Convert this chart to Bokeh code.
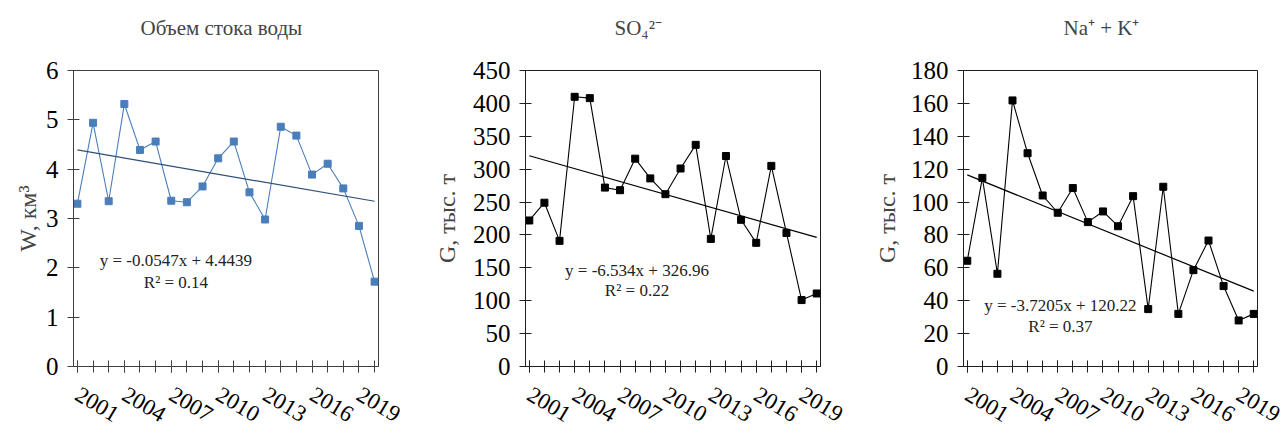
from bokeh.plotting import figure
from bokeh.layouts import row
from bokeh.models import FixedTicker, Range1d, Label, Title, InlineStyleSheet
from bokeh.embed import file_html
from bokeh.resources import INLINE

# ---- data ----
x_idx = list(range(1, 21))  # 2001..2020
label_ticks = [1, 4, 7, 10, 13, 16, 19]
label_years = ["2001", "2004", "2007", "2010", "2013", "2016", "2019"]

water = [3.30, 4.94, 3.35, 5.32, 4.39, 4.56, 3.36, 3.33, 3.65, 4.22,
         4.56, 3.53, 2.98, 4.86, 4.68, 3.89, 4.11, 3.61, 2.85, 1.72]
so4 = [222, 249, 191, 410, 408, 272, 268, 316, 286, 262,
       301, 337, 194, 320, 223, 188, 305, 203, 101, 111]
nak = [64.3, 114.7, 56.4, 161.8, 129.7, 104.0, 93.5, 108.5, 87.8, 94.3,
       85.3, 103.6, 34.9, 109.3, 32.0, 58.6, 76.6, 48.9, 28.0, 32.0]

water_trend = (-0.0547, 4.4439, 0.14)
so4_trend = (-6.534, 326.96, 0.22)
nak_trend = (-3.7205, 120.22, 0.37)

titles = ["Объем стока воды", "SO₄²⁻", "Na⁺ + K⁺"]
ylabels = ["W, км³", "G, тыс. т", "G, тыс. т"]

FONT = "Liberation Serif"
QFONT = '"Liberation Serif", serif'
FIG_H = 443
SERIF_CSS = InlineStyleSheet(css=':host, :host *, text, div, span { font-family: "Liberation Serif", serif !important; }')


def panel(title, vals, trend, ymax, ystep, width, borders, color, trend_color, axis_color,
          eq_pos, r2_pos, ylab, title_offset, ylab_standoff):
    bl, br, bt, bb = borders
    p = figure(width=width, height=FIG_H, output_backend="svg", toolbar_location=None,
               title=None,
               x_range=Range1d(0.75, 20.25), y_range=Range1d(0, ymax),
               min_border_left=bl, min_border_right=br, min_border_top=bt, min_border_bottom=bb)
    p.stylesheets = [SERIF_CSS]
    spacer = Title(text=" ", text_font_size="24px", standoff=0)
    main = Title(text=title, text_font=FONT, text_font_size="21px", text_font_style="normal",
                 align="left", offset=title_offset, standoff=4)
    p.add_layout(spacer, "above")
    p.add_layout(main, "above")
    p.grid.visible = False
    p.outline_line_color = axis_color
    p.outline_line_width = 1
    p.background_fill_color = "white"
    p.border_fill_color = "white"

    xa = p.xaxis[0]
    ya = p.yaxis[0]
    xa.ticker = FixedTicker(ticks=label_ticks, minor_ticks=x_idx)
    xa.major_label_overrides = dict(zip(label_ticks, label_years))
    xa.major_label_orientation = -0.54
    ya.ticker = FixedTicker(ticks=list(range(0, ymax + 1, ystep)), minor_ticks=[])
    for ax in (xa, ya):
        ax.axis_line_color = axis_color
        ax.major_tick_line_color = axis_color
        ax.major_tick_in = 6
        ax.major_tick_out = 6
        ax.minor_tick_line_color = axis_color
        ax.minor_tick_in = 6
        ax.minor_tick_out = 6
        ax.major_label_text_font = QFONT
        ax.major_label_text_color = "black"
    xa.major_label_text_font_size = "23px"
    ya.major_label_text_font_size = "25px"
    xa.major_label_standoff = 20
    ya.major_label_standoff = 9
    ya.axis_label = ylab
    ya.axis_label_text_font = QFONT
    ya.axis_label_text_font_size = "24px"
    ya.axis_label_text_font_style = "normal"
    ya.axis_label_standoff = ylab_standoff

    p.line(x_idx, vals, line_color=color, line_width=1.1)
    p.scatter(x_idx, vals, marker="square", size=7, fill_color=color, line_color=color)

    slope, icpt, r2 = trend
    tx = [x_idx[0], x_idx[-1]]
    p.line(tx, [slope * v + icpt for v in tx], line_color=trend_color, line_width=1.2)

    eq = "y = %sx + %s" % (("%g" % slope), ("%g" % icpt))
    p.add_layout(Label(x=eq_pos[0], y=eq_pos[1], text=eq, text_font=FONT, text_font_size="17px",
                       text_align="center", text_baseline="middle", text_color="#222222"))
    p.add_layout(Label(x=r2_pos[0], y=r2_pos[1], text="R² = %.2f" % r2, text_font=FONT,
                       text_font_size="17px", text_align="center", text_baseline="middle",
                       text_color="#222222"))
    return p


p1 = panel(titles[0], water, water_trend, 6, 1, 420, (73, 42, 67, FIG_H - 368),
           "#4A7EBB", "#2F4F78", "#404040",
           (7.3, 2.15), (7.3, 1.71), ylabels[0], 67, 2)
p2 = panel(titles[1], so4, so4_trend, 450, 50, 430, (105, 30, 70, FIG_H - 366),
           "black", "black", "#202020",
           (8.12, 146), (8.12, 115), ylabels[1], 89, 10)
p3 = panel(titles[2], nak, nak_trend, 180, 20, 437, (113, 30, 70, FIG_H - 366),
           "black", "black", "#202020",
           (7.18, 36.8), (7.18, 24.3), ylabels[2], 100, 8)

layout = row(p1, p2, p3)
open("out.html", "w").write(file_html(layout, INLINE))
